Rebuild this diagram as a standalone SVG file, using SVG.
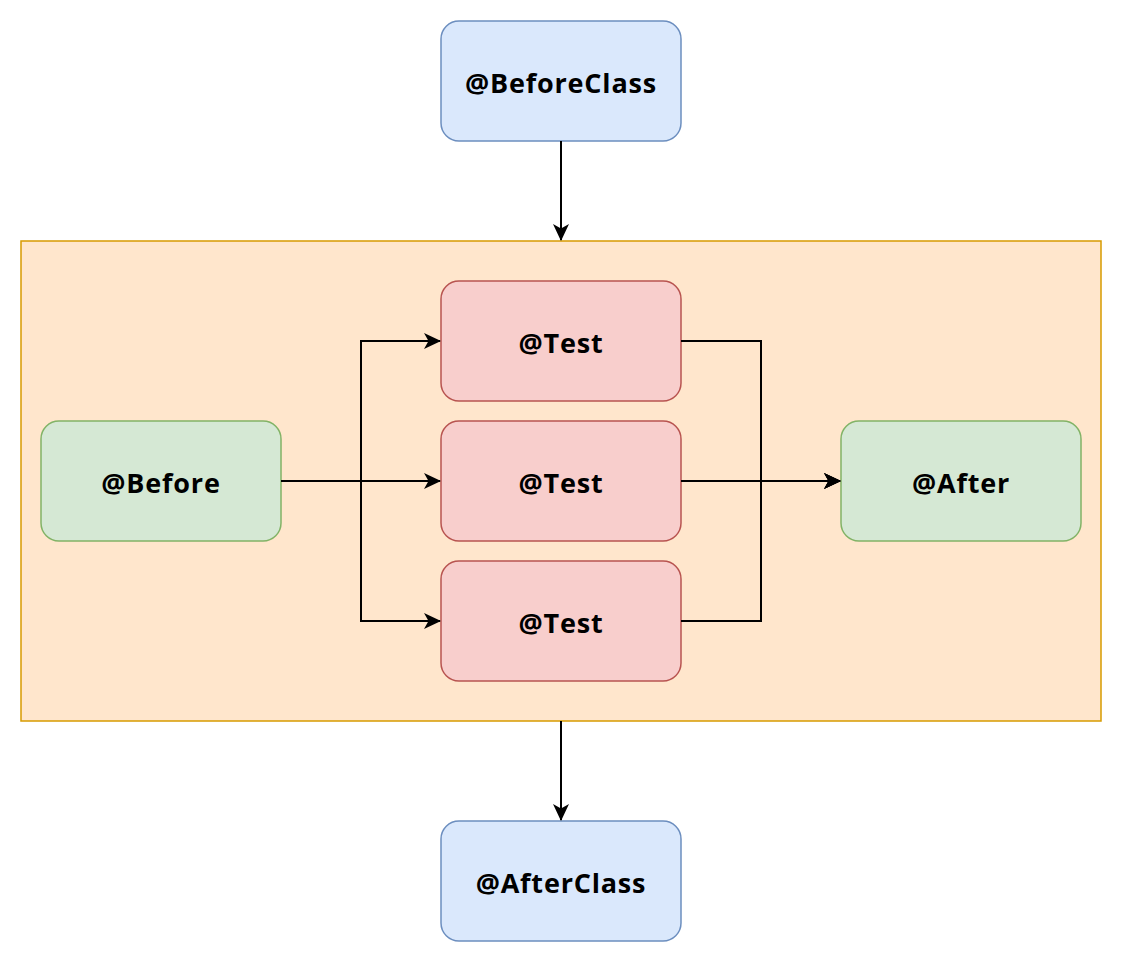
<svg xmlns="http://www.w3.org/2000/svg" width="1122" height="962" viewBox="0 0 1122 962">
<style>
.n rect{stroke-width:1.5}
.blue{fill:#dae8fc;stroke:#6c8ebf}
.red{fill:#f8cecc;stroke:#b85450}
.green{fill:#d5e8d4;stroke:#82b366}
.orange{fill:#ffe6cc;stroke:#d79b00}
text{font-family:"Open Sans","Noto Sans","Liberation Sans",sans-serif;font-weight:bold;font-size:27px;letter-spacing:0.8px;fill:#000;text-anchor:middle;dominant-baseline:central}
.e{fill:none;stroke:#000;stroke-width:2}
</style>
<defs>
<marker id="a" viewBox="0 0 17 16" refX="16" refY="8" markerWidth="17" markerHeight="16" markerUnits="userSpaceOnUse" orient="auto">
<path d="M0,0 L17,8 L0,16 L4.5,8 Z" fill="#000"/>
</marker>
</defs>
<g id="container" class="n"><rect class="orange" x="21" y="241" width="1080" height="480"/></g>
<g id="beforeclass" class="n"><rect class="blue" x="441" y="21" width="240" height="120" rx="18"/><text x="561" y="82">@BeforeClass</text></g>
<g id="afterclass" class="n"><rect class="blue" x="441" y="821" width="240" height="120" rx="18"/><text x="561" y="882">@AfterClass</text></g>
<g id="before" class="n"><rect class="green" x="41" y="421" width="240" height="120" rx="18"/><text x="161" y="482">@Before</text></g>
<g id="after" class="n"><rect class="green" x="841" y="421" width="240" height="120" rx="18"/><text x="961" y="482">@After</text></g>
<g id="test1" class="n"><rect class="red" x="441" y="281" width="240" height="120" rx="18"/><text x="561" y="342">@Test</text></g>
<g id="test2" class="n"><rect class="red" x="441" y="421" width="240" height="120" rx="18"/><text x="561" y="482">@Test</text></g>
<g id="test3" class="n"><rect class="red" x="441" y="561" width="240" height="120" rx="18"/><text x="561" y="622">@Test</text></g>
<g id="connectors">
<path class="e" d="M561,141 V240" marker-end="url(#a)"/>
<path class="e" d="M561,721 V820" marker-end="url(#a)"/>
<path class="e" d="M281,481 H361 V341 H440" marker-end="url(#a)"/>
<path class="e" d="M281,481 H440" marker-end="url(#a)"/>
<path class="e" d="M281,481 H361 V621 H440" marker-end="url(#a)"/>
<path class="e" d="M681,341 H761 V481 H840" marker-end="url(#a)"/>
<path class="e" d="M681,481 H840" marker-end="url(#a)"/>
<path class="e" d="M681,621 H761 V481 H840" marker-end="url(#a)"/>
</g>
</svg>
